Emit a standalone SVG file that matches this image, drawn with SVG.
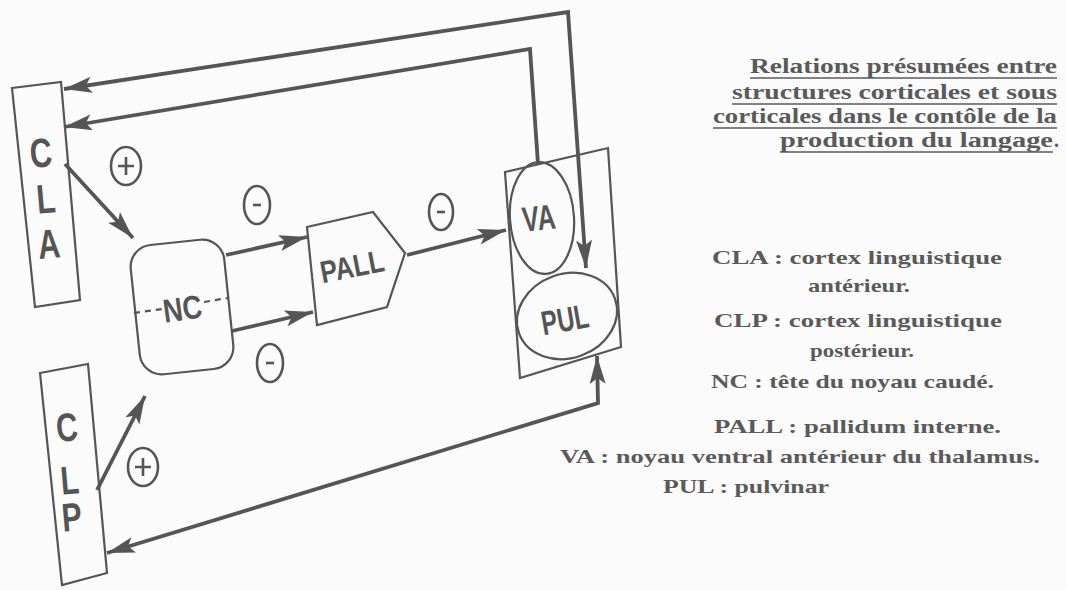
<svg xmlns="http://www.w3.org/2000/svg" width="1066" height="590" viewBox="0 0 1066 590">
<style>
.bg{fill:#fbfbfb}
.box{fill:none;stroke:#555;stroke-width:2.2}
.ln{fill:none;stroke:#555;stroke-width:3.8;stroke-linejoin:miter}
.lbl{font-family:"Liberation Sans",Arial,sans-serif;font-weight:bold;fill:#555;text-anchor:middle}
.sg{fill:none;stroke:#555;stroke-width:2.6}
.leg{font-family:"Liberation Serif","Times New Roman",serif;font-weight:bold;font-size:19px;fill:#5a5a5a}
.ttl{font-family:"Liberation Serif","Times New Roman",serif;font-weight:bold;font-size:20px;fill:#5a5a5a}
.ul{stroke:#5a5a5a;stroke-width:1.6}
</style>
<defs>
<marker id="ah" markerUnits="userSpaceOnUse" markerWidth="30" markerHeight="18" refX="28" refY="8" orient="auto">
<path d="M0,0 L28,8 L0,16 L6,8 z" fill="#555"/>
</marker>
<marker id="ahs" markerUnits="userSpaceOnUse" markerWidth="30" markerHeight="18" refX="28" refY="8" orient="auto-start-reverse">
<path d="M0,0 L28,8 L0,16 L6,8 z" fill="#555"/>
</marker>
</defs>
<rect class="bg" x="0" y="0" width="1066" height="590"/>

<g id="connectors">
<path class="ln" d="M64,89 L568,12 L586,268" marker-start="url(#ahs)" marker-end="url(#ah)"/>
<path class="ln" d="M538,164 L530,49 L64,127" marker-end="url(#ah)"/>
<path class="ln" d="M107,553 L598,403 L597,356" marker-start="url(#ahs)" marker-end="url(#ah)"/>
<path class="ln" d="M65,164 L133,238" marker-end="url(#ah)"/>
<path class="ln" d="M97,490 L145,396" marker-end="url(#ah)"/>
<path class="ln" d="M226,255 L307,237" marker-end="url(#ah)"/>
<path class="ln" d="M232,331 L313,312" marker-end="url(#ah)"/>
<path class="ln" d="M407,255 L506,230" marker-end="url(#ah)"/>
</g>

<g id="signs">
<g id="plus-top"><ellipse class="sg" cx="126" cy="166" rx="15" ry="19"/><path class="sg" d="M126,157 V175 M118,166 H134"/></g>
<g id="minus-top"><ellipse class="sg" cx="257" cy="205" rx="13" ry="19"/><path class="sg" d="M253,205 H261"/></g>
<g id="minus-bottom"><ellipse class="sg" cx="270" cy="363" rx="13" ry="19"/><path class="sg" d="M266,363 H274"/></g>
<g id="minus-pall"><ellipse class="sg" cx="441" cy="212" rx="12" ry="18"/><path class="sg" d="M437,212 H445"/></g>
<g id="plus-bottom"><ellipse class="sg" cx="143" cy="467" rx="15" ry="19"/><path class="sg" d="M143,458 V476 M135,467 H151"/></g>
</g>

<g id="CLA">
<polygon class="box" points="12,88 61,82 80,300 35,307"/>
<text class="lbl" font-size="41" transform="translate(42,167) rotate(-5) scale(0.75,1)">C</text>
<text class="lbl" font-size="41" transform="translate(47,213) rotate(-5) scale(0.75,1)">L</text>
<text class="lbl" font-size="41" transform="translate(50,258) rotate(-5) scale(0.75,1)">A</text>
</g>

<g id="CLP">
<polygon class="box" points="40,373 88,364 107,573 62,585"/>
<text class="lbl" font-size="40" transform="translate(68,441) rotate(-5) scale(0.75,1)">C</text>
<text class="lbl" font-size="40" transform="translate(71,494) rotate(-5) scale(0.75,1)">L</text>
<text class="lbl" font-size="40" transform="translate(73,531) rotate(-5) scale(0.75,1)">P</text>
</g>

<g id="NC">
<rect class="box" x="135" y="242" width="94" height="130" rx="22" ry="22" transform="rotate(-6 182 307)"/>
<path class="box" d="M134,313 L162,309 M204,302 L228,298" stroke-dasharray="6,5"/>
<text class="lbl" font-size="33" transform="translate(184,320) rotate(-8) scale(0.82,1)">NC</text>
</g>

<g id="PALL">
<polygon class="box" points="307,227 373,212 405,253 387,307 317,325"/>
<text class="lbl" font-size="31" transform="translate(354,277) rotate(-11) scale(0.82,1)">PALL</text>
</g>

<g id="VA-PUL">
<polygon class="box" points="505,172 608,148 621,347 520,378"/>
<ellipse class="box" cx="542" cy="218" rx="32" ry="56" transform="rotate(-4 542 218)"/>
<text class="lbl" font-size="35" transform="translate(540,230) rotate(-6) scale(0.72,1)">VA</text>
<ellipse class="box" cx="567" cy="316" rx="51" ry="42" transform="rotate(-20 567 316)"/>
<text class="lbl" font-size="34" transform="translate(567,331) rotate(-10) scale(0.7,1)">PUL</text>
</g>

<g id="title">
<text class="ttl" x="750" y="73" textLength="307" lengthAdjust="spacingAndGlyphs">Relations présumées entre</text>
<line class="ul" x1="750" y1="78" x2="1057" y2="78"/>
<text class="ttl" x="732" y="99" textLength="325" lengthAdjust="spacingAndGlyphs">structures corticales et sous</text>
<line class="ul" x1="732" y1="104" x2="1057" y2="104"/>
<text class="ttl" x="713" y="123" textLength="344" lengthAdjust="spacingAndGlyphs">corticales dans le contôle de la</text>
<line class="ul" x1="713" y1="128" x2="1057" y2="128"/>
<text class="ttl" x="780" y="147" textLength="273" lengthAdjust="spacingAndGlyphs">production du langage</text>
<text class="ttl" x="1054" y="147">.</text>
<line class="ul" x1="780" y1="152" x2="1053" y2="152"/>
</g>

<g id="legend">
<text class="leg" x="712" y="264" textLength="290" lengthAdjust="spacingAndGlyphs">CLA : cortex linguistique</text>
<text class="leg" x="808" y="292" textLength="102" lengthAdjust="spacingAndGlyphs">antérieur.</text>
<text class="leg" x="714" y="327" textLength="288" lengthAdjust="spacingAndGlyphs">CLP : cortex linguistique</text>
<text class="leg" x="810" y="357" textLength="104" lengthAdjust="spacingAndGlyphs">postérieur.</text>
<text class="leg" x="711" y="388" textLength="283" lengthAdjust="spacingAndGlyphs">NC : tête du noyau caudé.</text>
<text class="leg" x="714" y="433" textLength="287" lengthAdjust="spacingAndGlyphs">PALL : pallidum interne.</text>
<text class="leg" x="560" y="463" textLength="480" lengthAdjust="spacingAndGlyphs">VA : noyau ventral antérieur du thalamus.</text>
<text class="leg" x="663" y="493" textLength="166" lengthAdjust="spacingAndGlyphs">PUL : pulvinar</text>
</g>
</svg>
